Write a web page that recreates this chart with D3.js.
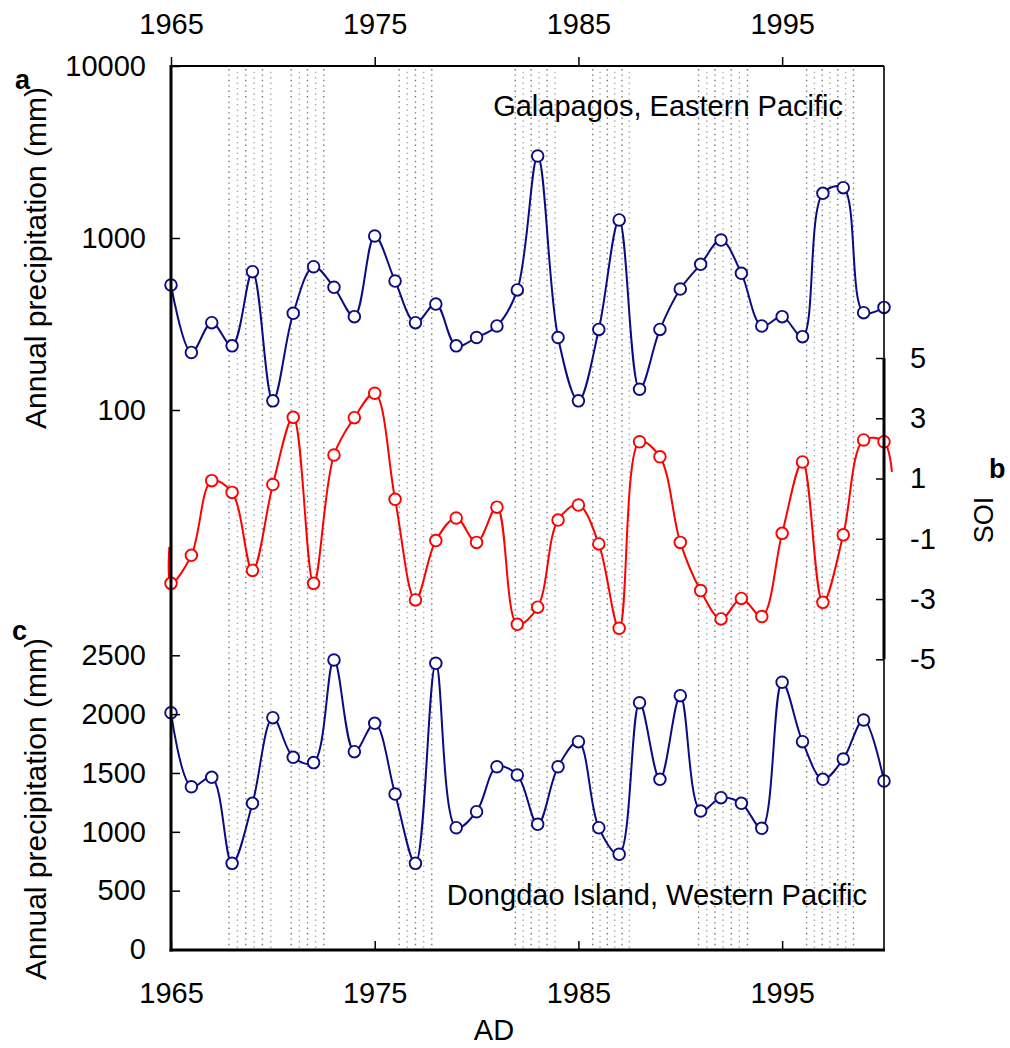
<!DOCTYPE html>
<html lang="en">
<meta charset="utf-8">
<head>
    <script src='https://d3js.org/d3.v7.min.js'></script>
    <style>
        body { margin: 0; background: #fff; }
        text { font-family: "Liberation Sans", Arial, Helvetica, sans-serif; fill: #000; }
    </style>
</head>
<body>
<script>
    // years 1965 - 2000, one value per year
    var years = d3.range(1965, 2001);

    var galapagos = [533, 216, 322, 236, 637, 113, 365, 681, 517, 349,
        1027, 562, 322, 413, 236, 264, 308, 499, 2997, 264,
        113, 294, 1273, 132, 294, 505, 703, 973, 623, 308,
        349, 267, 1818, 1962, 368, 395];

    var soi = [-2.48, -1.55, 0.93, 0.54, -2.05, 0.80, 3.03, -2.48, 1.78, 3.02,
        3.83, 0.31, -3.03, -1.06, -0.31, -1.12, 0.05, -3.84, -3.27, -0.38,
        0.12, -1.17, -3.97, 2.22, 1.72, -1.12, -2.72, -3.66, -2.98, -3.58,
        -0.82, 1.55, -3.11, -0.87, 2.28, 2.22];
    // the smoothed SOI curve runs a little past both ends
    var soiLead = [1964.92, -1.27];
    var soiTail = [2000.39, 1.22];

    var dongdao = [2012, 1383, 1463, 732, 1242, 1970, 1633, 1588, 2460, 1681,
        1922, 1321, 732, 2432, 1035, 1171, 1553, 1483, 1064, 1553,
        1766, 1035, 809, 2097, 1446, 2157, 1177, 1290, 1242, 1030,
        2271, 1766, 1446, 1619, 1950, 1432];

    // dotted periods (start, end year)
    var bands = [[1967.85, 1969.9], [1970.9, 1972.5], [1976.2, 1977.8],
        [1981.9, 1983.85], [1985.7, 1987.5], [1990.9, 1993.3], [1996.2, 1998.5]];

    var xTicks = [1965, 1975, 1985, 1995];
    var galTicks = [100, 1000, 10000];
    var soiTicks = [5, 3, 1, -1, -3, -5];
    var dongTicks = [0, 500, 1000, 1500, 2000, 2500];

    var W = 1010, H = 1048;
    var pLeft = 171, pRight = 884, pTop = 66, pBottom = 950;
    var blue = "#0c0c82", red = "#ff0000";

    var svg = d3.select("body").append("svg")
        .attr("width", W)
        .attr("height", H);

    var x = d3.scaleLinear().domain([1965, 2000]).range([pLeft, pRight]);
    var yG = d3.scaleLog().domain([10, 10000]).range([582, pTop]);
    var yS = d3.scaleLinear().domain([-5, 5]).range([659.3, 358]);
    var yD = d3.scaleLinear().domain([0, 2500]).range([949.5, 655.3]);

    // dotted bands
    var bandG = svg.append("g");
    bands.forEach(function(b) {
        var x0 = x(b[0]), x1 = x(b[1]);
        var n = Math.max(1, Math.round((x1 - x0) / 8));
        for (var k = 0; k <= n; k++) {
            var xx = x0 + k * (x1 - x0) / n;
            bandG.append("line")
                .attr("x1", xx).attr("x2", xx)
                .attr("y1", pTop + 3).attr("y2", pBottom)
                .attr("stroke", k % 2 ? "#aaa" : "#777")
                .attr("stroke-width", 1.4)
                .attr("stroke-dasharray", "1.4 4")
                .attr("stroke-dashoffset", k % 2 ? 2.7 : 0);
        }
    });

    function series(vals, yScale, color, lead, tail) {
        var pts = years.map(function(d, i) { return [d, vals[i]]; });
        var linePts = pts.slice();
        if (lead) linePts.unshift(lead);
        if (tail) linePts.push(tail);
        var line = d3.line()
            .x(function(d) { return x(d[0]); })
            .y(function(d) { return yScale(d[1]); })
            .curve(d3.curveCatmullRom.alpha(0.5));
        svg.append("path")
            .attr("d", line(linePts))
            .attr("fill", "none")
            .attr("stroke", color)
            .attr("stroke-width", 2);
        svg.append("g").selectAll("circle")
            .data(pts)
            .enter()
            .append("circle")
            .attr("cx", function(d) { return x(d[0]); })
            .attr("cy", function(d) { return yScale(d[1]); })
            .attr("r", 5.8)
            .attr("fill", "#fff")
            .attr("stroke", color)
            .attr("stroke-width", 1.9);
    }

    series(galapagos, yG, blue);
    series(soi, yS, red, soiLead, soiTail);
    series(dongdao, yD, blue);

    // frame
    function frameLine(x1, y1, x2, y2, w) {
        svg.append("line")
            .attr("x1", x1).attr("y1", y1).attr("x2", x2).attr("y2", y2)
            .attr("stroke", "#000").attr("stroke-width", w);
    }
    frameLine(pLeft, pTop, pRight, pTop, 2);
    frameLine(pRight, pTop, pRight, pBottom, 1.6);
    frameLine(pRight, yS(5), pRight, yS(-5), 3);
    frameLine(pLeft, pTop - 1, pLeft, pBottom + 1.5, 3);
    frameLine(pLeft - 1.5, pBottom, pRight + 1, pBottom, 3);

    var fontTick = "29px";

    function styleAxis(g) {
        g.select(".domain").remove();
        g.selectAll("line").attr("stroke-width", 1.5);
        g.selectAll("text").style("font-size", fontTick);
    }

    // top axis
    svg.append("g")
        .attr("transform", "translate(0," + pTop + ")")
        .call(d3.axisTop(x).tickValues(xTicks).tickFormat(d3.format("d"))
            .tickSize(9).tickPadding(23))
        .call(styleAxis);

    // bottom axis
    svg.append("g")
        .attr("transform", "translate(0," + pBottom + ")")
        .call(d3.axisBottom(x).tickValues(xTicks).tickFormat(d3.format("d"))
            .tickSize(-9).tickPadding(32))
        .call(styleAxis);

    // left axis, panel a
    svg.append("g")
        .attr("transform", "translate(" + pLeft + ",0)")
        .call(d3.axisLeft(yG).tickValues(galTicks).tickFormat(d3.format("d"))
            .tickSize(-9).tickPadding(25))
        .call(styleAxis);

    // left axis, panel c
    svg.append("g")
        .attr("transform", "translate(" + pLeft + ",0)")
        .call(d3.axisLeft(yD).tickValues(dongTicks).tickFormat(d3.format("d"))
            .tickSize(-9).tickPadding(25))
        .call(styleAxis);

    // right axis, SOI
    svg.append("g")
        .attr("transform", "translate(" + pRight + ",0)")
        .call(d3.axisRight(yS).tickValues(soiTicks).tickFormat(function(d) { return String(d); })
            .tickSize(-8).tickPadding(26))
        .call(styleAxis);

    // titles
    svg.append("text")
        .attr("x", 843).attr("y", 116)
        .attr("text-anchor", "end")
        .style("font-size", "29px")
        .text("Galapagos, Eastern Pacific");

    svg.append("text")
        .attr("x", 867).attr("y", 905)
        .attr("text-anchor", "end")
        .style("font-size", "29px")
        .text("Dongdao Island, Western Pacific");

    svg.append("text")
        .attr("transform", "translate(46,258) rotate(-90)")
        .attr("text-anchor", "middle")
        .style("font-size", "30px")
        .text("Annual precipitation (mm)");

    svg.append("text")
        .attr("transform", "translate(46,809) rotate(-90)")
        .attr("text-anchor", "middle")
        .style("font-size", "30px")
        .text("Annual precipitation (mm)");

    svg.append("text")
        .attr("transform", "translate(993,520) rotate(-90)")
        .attr("text-anchor", "middle")
        .style("font-size", "27px")
        .text("SOI");

    svg.append("text")
        .attr("x", 494).attr("y", 1040)
        .attr("text-anchor", "middle")
        .style("font-size", "29px")
        .text("AD");

    // panel letters
    [["a", 15, 89], ["b", 989, 478], ["c", 12, 640]].forEach(function(p) {
        svg.append("text")
            .attr("x", p[1]).attr("y", p[2])
            .style("font-size", "27px")
            .style("font-weight", "bold")
            .text(p[0]);
    });
</script>
</body>
</html>
